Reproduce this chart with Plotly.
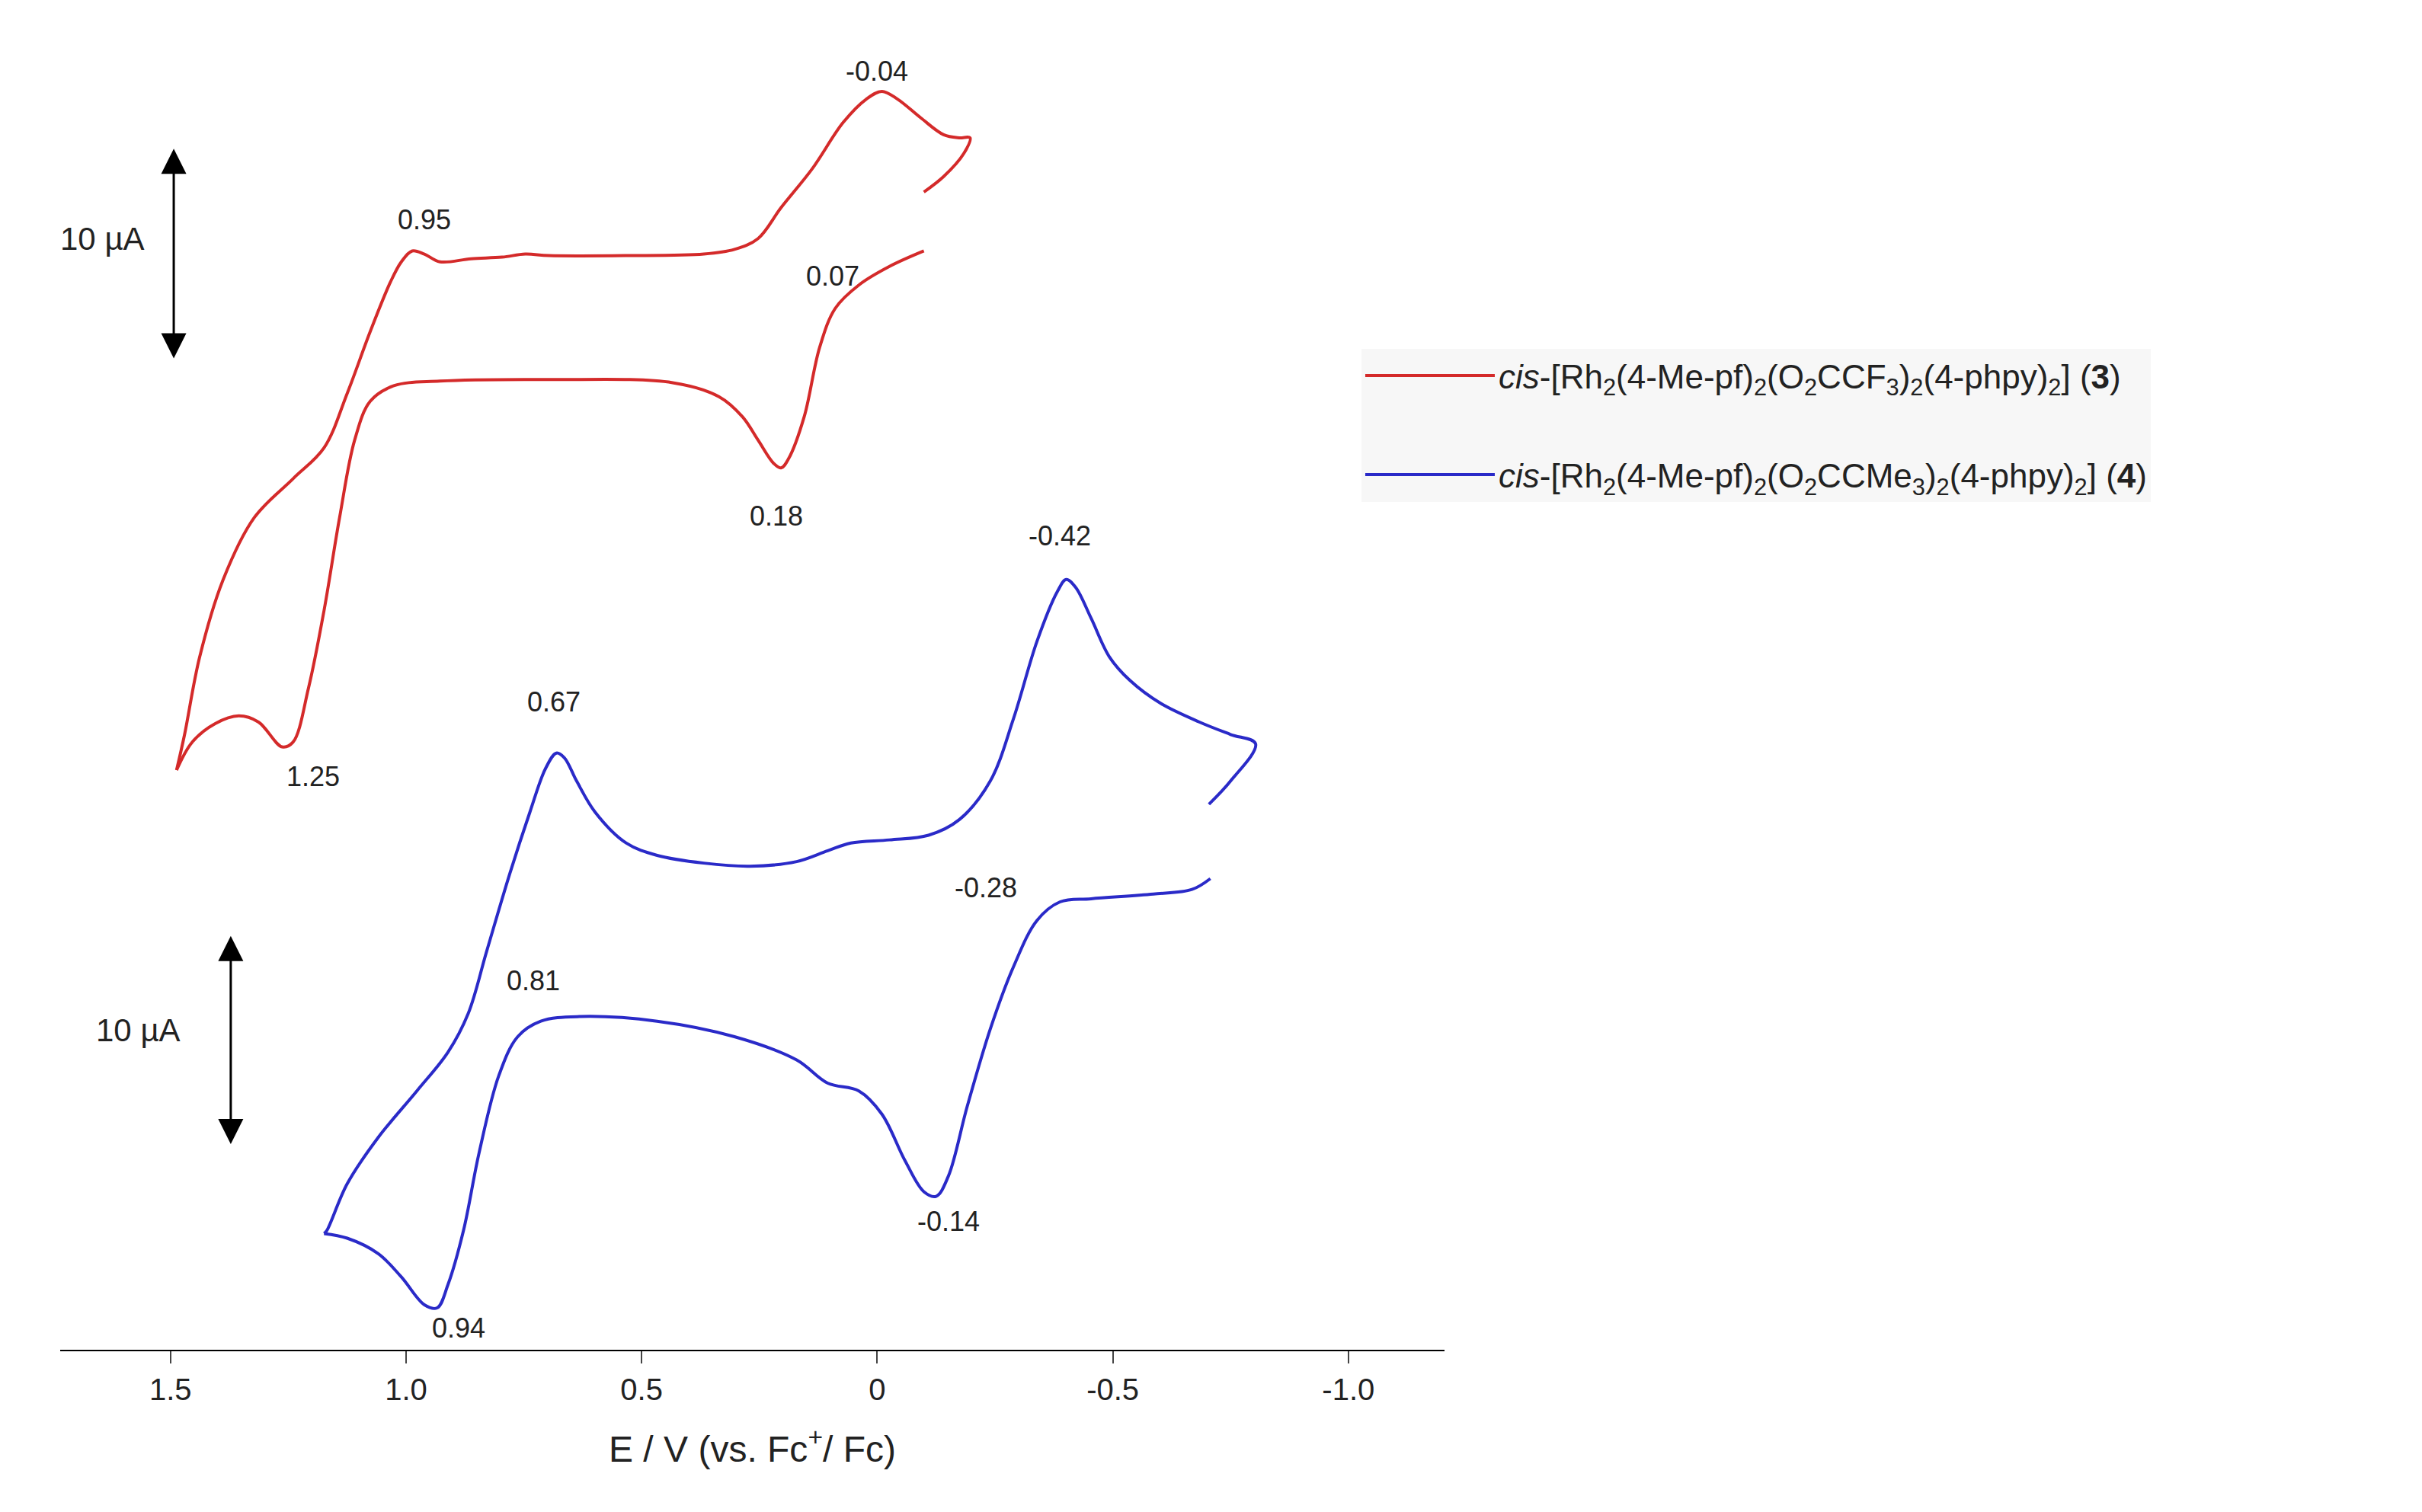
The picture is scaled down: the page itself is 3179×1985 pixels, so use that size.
import plotly.graph_objects as go

# potentials (V vs Fc+/Fc) and current (arbitrary units, offset per trace)
red_E = [1.487, 1.470, 1.438, 1.388, 1.322, 1.240, 1.174, 1.125, 1.076, 1.033, 1.010, 0.987, 0.961, 0.928, 0.862, 0.796, 0.747, 0.697,
         0.533, 0.368, 0.303, 0.253, 0.204, 0.138, 0.072, 0.023, -0.010, -0.043, -0.092, -0.141, -0.174, -0.197, -0.184, -0.141, -0.099]
red_I = [374, 397, 447, 497, 537, 562, 582, 617, 657, 689, 702, 709, 707, 702, 704, 705, 707, 706,
         706, 707, 710, 717, 737, 762, 792, 807, 812, 807, 795, 784, 782, 782, 772, 757, 747]
red_E2 = [1.487, 1.454, 1.405, 1.355, 1.313, 1.263, 1.240, 1.207, 1.174, 1.141, 1.109, 1.076, 1.026, 0.928, 0.697, 0.434, 0.336, 0.286,
          0.253, 0.220, 0.204, 0.188, 0.155, 0.122, 0.089, 0.039, -0.026, -0.099]
red_I2 = [374, 392, 404, 409, 405, 389, 392, 427, 477, 537, 587, 612, 622, 625, 626, 624, 615, 602,
          587, 572, 569, 575, 602, 647, 672, 687, 699, 709]

blue_E = [-0.704, -0.750, -0.803, -0.750, -0.684, -0.602, -0.536, -0.493, -0.454, -0.421, -0.401, -0.382, -0.339, -0.289, -0.240, -0.174,
          -0.109, -0.026, 0.056, 0.105, 0.171, 0.270, 0.368, 0.467, 0.533, 0.599, 0.638, 0.664, 0.681, 0.704, 0.737, 0.780, 0.829, 0.868,
          0.911, 0.977, 1.059, 1.125, 1.168, 1.174]
blue_I = [352, 367, 391, 397, 405, 417, 432, 447, 472, 492, 497, 489, 457, 407, 367, 342,
          332, 329, 327, 322, 315, 312, 314, 319, 327, 347, 367, 382, 385, 375, 347, 307, 257, 217,
          192, 167, 137, 107, 77, 75]
blue_E2 = [1.174, 1.125, 1.059, 1.010, 0.961, 0.934, 0.911, 0.878, 0.845, 0.803, 0.763, 0.714, 0.632, 0.467, 0.303, 0.171,
           0.105, 0.039, -0.010, -0.059, -0.099, -0.125, -0.151, -0.191, -0.240, -0.289, -0.339, -0.388, -0.454, -0.586, -0.668, -0.707]
blue_I2 = [75, 72, 62, 47, 29, 27, 42, 77, 127, 177, 202, 212, 215, 212, 202, 187,
           172, 167, 152, 122, 102, 99, 112, 157, 207, 247, 277, 289, 291, 294, 297, 304]

red_labels = [("-0.04", 0.0, 825), ("0.95", 0.961, 729), ("0.07", 0.095, 693), ("0.18", 0.214, 538), ("1.25", 1.197, 370)]
blue_labels = [("-0.42", -0.388, 525), ("0.67", 0.687, 418), ("-0.28", -0.230, 298), ("0.81", 0.730, 238),
               ("-0.14", -0.151, 83), ("0.94", 0.888, 14)]

RED = "#d42a2a"
BLUE = "#2a2ac8"
FONT = "Liberation Sans, Arial, sans-serif"

name3 = "<i>cis</i>-[Rh<sub>2</sub>(4-Me-pf)<sub>2</sub>(O<sub>2</sub>CCF<sub>3</sub>)<sub>2</sub>(4-phpy)<sub>2</sub>] (<b>3</b>)"
name4 = "<i>cis</i>-[Rh<sub>2</sub>(4-Me-pf)<sub>2</sub>(O<sub>2</sub>CCMe<sub>3</sub>)<sub>2</sub>(4-phpy)<sub>2</sub>] (<b>4</b>)"

fig = go.Figure()
fig.add_trace(go.Scatter(x=red_E, y=red_I, mode="lines", line=dict(color=RED, width=4, shape="spline"), name=name3, legendgroup="a"))
fig.add_trace(go.Scatter(x=red_E2, y=red_I2, mode="lines", line=dict(color=RED, width=4, shape="spline"), showlegend=False, legendgroup="a"))
fig.add_trace(go.Scatter(x=blue_E, y=blue_I, mode="lines", line=dict(color=BLUE, width=4, shape="spline"), name=name4, legendgroup="b"))
fig.add_trace(go.Scatter(x=blue_E2, y=blue_I2, mode="lines", line=dict(color=BLUE, width=4, shape="spline"), showlegend=False, legendgroup="b"))

for txt, x, y in red_labels + blue_labels:
    fig.add_annotation(x=x, y=y, text=txt, showarrow=False, font=dict(size=36, color="#222"))

# 10 µA scale bars
for x, y0, y1, ly, lx in [(1.493, 639, 775, 717, 1.645), (1.372, 132, 267, 206, 1.569)]:
    fig.add_annotation(x=x, y=y1, ax=x, ay=y0, xref="x", yref="y", axref="x", ayref="y", text="",
                       showarrow=True, arrowhead=2, arrowside="end+start", arrowsize=2.2, arrowwidth=3, arrowcolor="black")
    fig.add_annotation(x=lx, y=ly, text="10 µA", showarrow=False, font=dict(size=42, color="#222"))

fig.update_layout(
    width=3179, height=1985, paper_bgcolor="white", plot_bgcolor="white",
    margin=dict(l=71, r=1291, t=0, b=221),
    font=dict(family=FONT, size=40, color="#222"),
    showlegend=True,
    legend=dict(x=0.94, y=0.745, xanchor="left", yanchor="top", bgcolor="#f7f7f7", itemwidth=170,
                font=dict(size=44), tracegroupgap=70, borderwidth=0),
    xaxis=dict(range=[1.734, -1.204], tickvals=[1.5, 1.0, 0.5, 0, -0.5, -1.0], ticktext=["1.5", "1.0", "0.5", "0", "-0.5", "-1.0"],
               ticks="outside", ticklen=16, tickwidth=2, showline=True, linecolor="black", linewidth=2,
               showgrid=False, zeroline=False, title=dict(text="E / V (vs. Fc<sup>+</sup>/ Fc)", standoff=40)),
    yaxis=dict(range=[0, 867], visible=False),
)

fig.write_html("out.html")
